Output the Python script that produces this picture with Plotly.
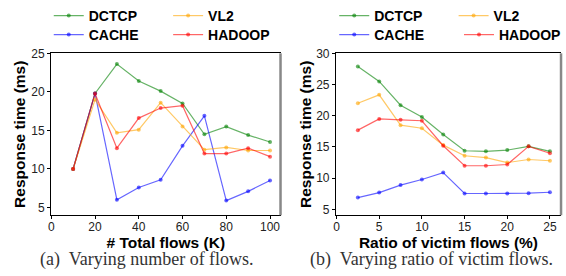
import plotly.graph_objects as go

# ---- data: subplot (a) ----
flows_k = [10, 20, 30, 40, 50, 60, 70, 80, 90, 100]
a_dctcp = [10.0, 19.8, 23.6, 21.4, 20.1, 18.5, 14.5, 15.5, 14.4, 13.5]
a_cache = [10.0, 19.8, 6.0, 7.6, 8.6, 13.0, 16.9, 5.9, 7.1, 8.5]
a_vl2 = [10.0, 19.0, 14.7, 15.1, 18.6, 15.5, 12.5, 12.8, 12.4, 12.4]
a_hadoop = [10.0, 19.8, 12.7, 16.6, 17.9, 18.2, 12.0, 12.0, 12.7, 11.6]

# ---- data: subplot (b) ----
victim_ratio = [2.5, 5, 7.5, 10, 12.5, 15, 17.5, 20, 22.5, 25]
b_dctcp = [27.9, 25.5, 21.7, 19.8, 17.0, 14.4, 14.3, 14.5, 15.1, 14.3]
b_cache = [6.9, 7.7, 8.9, 9.8, 10.9, 7.55, 7.55, 7.55, 7.6, 7.75]
b_vl2 = [22.0, 23.35, 18.5, 18.0, 15.3, 13.6, 13.3, 12.5, 13.0, 12.8]
b_hadoop = [17.7, 19.5, 19.35, 19.2, 15.2, 12.0, 12.0, 12.2, 15.1, 14.0]

names = ["DCTCP", "CACHE", "VL2", "HADOOP"]
colors = {
    "DCTCP": "rgba(0,128,0,0.6)",
    "CACHE": "rgba(0,0,255,0.6)",
    "VL2": "rgba(255,165,0,0.6)",
    "HADOOP": "rgba(255,0,0,0.6)",
}
# legend cell (column, row) for each series
cell_of = {"DCTCP": (0, 0), "CACHE": (0, 1), "VL2": (1, 0), "HADOOP": (1, 1)}

W, H = 566, 276
fig = go.Figure()

series_a = {"DCTCP": a_dctcp, "CACHE": a_cache, "VL2": a_vl2, "HADOOP": a_hadoop}
series_b = {"DCTCP": b_dctcp, "CACHE": b_cache, "VL2": b_vl2, "HADOOP": b_hadoop}

leg_font = dict(family="Liberation Sans, Arial", size=14, color="black", weight="bold")
col_x = [[46, 166], [333, 453]]   # left px of each legend column per panel
row_y = [7, 27]

leg_layout = {}
k = 0
for pi, (xs, series, xa, ya) in enumerate([
    (flows_k, series_a, "x", "y"),
    (victim_ratio, series_b, "x2", "y2"),
]):
    for n in names:
        k += 1
        lname = "legend" if k == 1 else f"legend{k}"
        c, r = cell_of[n]
        lx, xanc = col_x[pi][c] / W, "left"
        if pi == 1 and n == "HADOOP":
            lx, xanc = 1.0, "right"
        leg_layout[lname] = dict(
            x=lx, y=1 - row_y[r] / H,
            xanchor=xanc, yanchor="middle", orientation="h",
            itemwidth=30, bgcolor="rgba(0,0,0,0)", font=leg_font,
        )
        fig.add_trace(go.Scatter(
            x=xs, y=series[n], name=n, mode="lines+markers",
            xaxis=xa, yaxis=ya,
            line=dict(color=colors[n], width=1.2),
            marker=dict(color=colors[n], size=4),
            legend=lname, showlegend=True,
        ))

yd = [1 - 214 / H, 1 - 46 / H]
axis_font = dict(family="Liberation Sans, Arial", size=12, color="#222")
title_font = dict(family="Liberation Sans, Arial", size=15.5, color="black")

common_x = dict(showline=True, linecolor="black", linewidth=1, mirror=True,
                ticks="outside", ticklen=3, tickcolor="black", ticklabelstandoff=-3,
                showgrid=False, zeroline=False, tickfont=axis_font)
common_y = dict(showline=True, linecolor="black", linewidth=1, mirror=False,
                ticks="outside", ticklen=3, tickcolor="black",
                showgrid=False, zeroline=False, tickfont=axis_font)

fig.update_layout(
    width=W, height=H,
    margin=dict(l=0, r=0, t=0, b=0),
    paper_bgcolor="white", plot_bgcolor="white",
    xaxis=dict(domain=[48.3 / W, 279 / W], range=[-0.1, 104.8],
               tickvals=[0, 20, 40, 60, 80, 100], anchor="y",
               title=dict(text="<b># Total flows (K)</b>", font=title_font, standoff=1),
               **common_x),
    yaxis=dict(domain=yd, range=[4, 25], tickvals=[5, 10, 15, 20, 25], anchor="x",
               title=dict(text="<b>Response time (ms)</b>", font=title_font, standoff=1),
               **common_y),
    xaxis2=dict(domain=[334.7 / W, 561 / W], range=[-0.07, 26.3],
                tickvals=[0, 5, 10, 15, 20, 25], anchor="y2",
                title=dict(text="<b>Ratio of victim flows (%)</b>", font=title_font, standoff=1),
                **common_x),
    yaxis2=dict(domain=yd, range=[4.07, 30], tickvals=[5, 10, 15, 20, 25, 30], anchor="x2",
                title=dict(text="<b>Response time (ms)</b>", font=title_font, standoff=0),
                **common_y),
    **leg_layout,
)

# gray right spine
for xd, yr in [("x domain", "y domain"), ("x2 domain", "y2 domain")]:
    fig.add_shape(type="line", xref=xd, yref=yr, x0=1, x1=1, y0=0, y1=1,
                  line=dict(color="#888", width=2.5))

cap_font = dict(family="Liberation Serif, Times New Roman", size=18, color="#333")
fig.add_annotation(text="(a)  Varying number of flows.", x=145 / W, y=1 - 260 / H,
                   xref="paper", yref="paper", showarrow=False, font=cap_font,
                   xanchor="center", yanchor="middle")
fig.add_annotation(text="(b)  Varying ratio of victim flows.", x=431 / W, y=1 - 260 / H,
                   xref="paper", yref="paper", showarrow=False, font=cap_font,
                   xanchor="center", yanchor="middle")

fig.write_html(
    "out.html",
    config={"displayModeBar": False},
    post_script="document.body.style.margin='0';document.body.style.overflow='hidden';",
)
